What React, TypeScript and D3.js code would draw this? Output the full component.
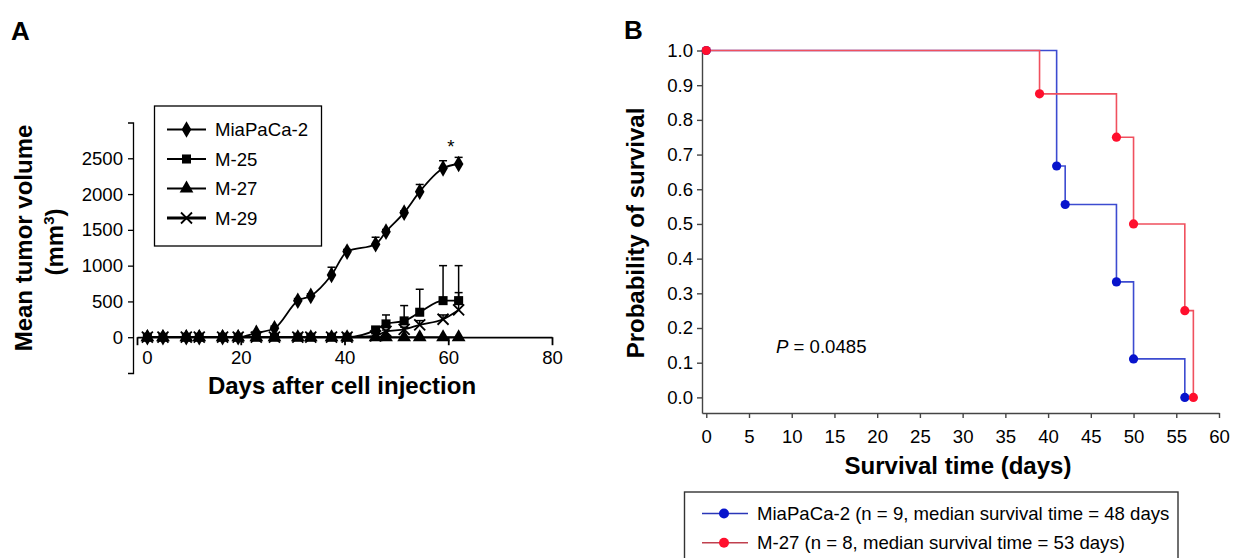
import React, { useRef, useEffect } from "react";
import * as d3 from "d3";

// Panel A - tumor growth
const days = [2, 5, 9.5, 12, 16.5, 19.5, 23, 26.5, 31, 33.5, 37.5, 40.5, 46, 48, 51.5, 54.5, 59, 62];
const miaPaCa = [0, 0, 0, 0, 0, 0, 60, 125, 510, 577, 870, 1196, 1299, 1475, 1740, 2034, 2360, 2420];
const miaPaCaErr = [0, 0, 0, 0, 0, 0, 20, 30, 30, 30, 108, 30, 98, 30, 25, 100, 106, 93];
const m25 = [0, 0, 0, 0, 0, 0, 0, 0, 0, 0, 0, 0, 102, 186, 228, 349, 511, 511];
const m25Err = [0, 0, 0, 0, 0, 0, 0, 0, 0, 0, 0, 0, 30, 125, 214, 321, 489, 489];
const m27 = [0, 0, 0, 0, 0, 0, 0, 0, 0, 0, 0, 0, 0, 0, 0, 0, 0, 0];
const m29 = [0, 0, 0, 0, 0, 0, 0, 0, 0, 0, 0, 0, 20, 80, 110, 172, 251, 381];
const m29Err = [0, 0, 0, 0, 0, 0, 0, 0, 0, 0, 0, 0, 0, 20, 30, 60, 60, 242];
const seriesNamesA = ["MiaPaCa-2", "M-25", "M-27", "M-29"];
const yTicksA = [0, 500, 1000, 1500, 2000, 2500];
const xTicksA = [0, 20, 40, 60, 80];

// Panel B - Kaplan-Meier
const miaTimes = [0, 41, 42, 48, 50, 56];
const miaSurv = [1, 0.667, 0.556, 0.333, 0.111, 0];
const m27Times = [0, 39, 48, 50, 56, 57];
const m27Surv = [1, 0.875, 0.75, 0.5, 0.25, 0];
const legendB = [
  "MiaPaCa-2 (n = 9, median survival time = 48 days",
  "M-27 (n = 8, median survival time = 53 days)",
];
const xTicksB = d3.range(0, 61, 5);
const yTicksB = d3.range(0, 11).map(d => d / 10);

const FONT = "'Liberation Sans', Arial, Helvetica, sans-serif";
const FS = 18.6;

const App = () => {
  const svgRef = useRef<SVGSVGElement>(null);

  useEffect(() => {
    const svg = d3.select(svgRef.current);
    svg.selectAll("*").remove();
    svg.attr("font-family", FONT);

    // ---------- Panel A ----------
    const xA = d3.scaleLinear().domain([0, 80]).range([137, 552]);
    const yA = d3.scaleLinear().domain([-500, 3000]).range([373, 122.5]);

    svg.append("text").attr("x", 11).attr("y", 40).attr("font-size", 26)
      .attr("font-weight", "bold").text("A");

    const gy = svg.append("g").attr("transform", "translate(133,0)")
      .call(d3.axisLeft(yA).tickValues(yTicksA).tickFormat(d3.format("d")).tickSize(5).tickSizeOuter(5).tickPadding(5));
    gy.selectAll("text").attr("font-size", FS).attr("font-family", FONT).attr("fill", "#000");
    gy.selectAll("line,path").attr("stroke", "#000").attr("stroke-width", 1.3);

    const gx = svg.append("g").attr("transform", `translate(0,${yA(0)})`)
      .call(d3.axisBottom(xA).tickValues(xTicksA).tickSize(8).tickSizeOuter(0).tickPadding(6));
    gx.selectAll("text").attr("font-size", FS).attr("font-family", FONT).attr("fill", "#000");
    gx.selectAll("line,path").attr("stroke", "#000").attr("stroke-width", 1.8);
    gx.selectAll<SVGTextElement, number>(".tick text").filter(d => d === 0).attr("dx", 10);

    // axis titles
    svg.append("text").attr("x", 342).attr("y", 394).attr("text-anchor", "middle")
      .attr("font-size", 24).attr("font-weight", "bold").text("Days after cell injection");
    svg.append("text").attr("transform", "translate(32,238) rotate(-90)")
      .attr("text-anchor", "middle").attr("font-size", 24).attr("font-weight", "bold")
      .text("Mean tumor volume");
    const t2 = svg.append("text").attr("transform", "translate(63,242) rotate(-90)")
      .attr("text-anchor", "middle").attr("font-size", 24).attr("font-weight", "bold");
    t2.append("tspan").text("(mm");
    t2.append("tspan").attr("font-size", 15).attr("dy", -9).text("3");
    t2.append("tspan").attr("dy", 9).text(")");

    const seriesA = [
      { vals: miaPaCa, err: miaPaCaErr, marker: "diamond" },
      { vals: m25, err: m25Err, marker: "square" },
      { vals: m27, err: m27.map(() => 0), marker: "triangle" },
      { vals: m29, err: m29Err, marker: "x" },
    ];

    const lineA = d3.line<number>()
      .x((_, i) => xA(days[i]))
      .y(d => yA(d))
      .curve(d3.curveMonotoneX);

    const drawMarker = (g: any, type: string, x: number, y: number) => {
      if (type === "x") {
        g.append("path")
          .attr("d", `M${x - 5.5},${y - 5.5}L${x + 5.5},${y + 5.5}M${x - 5.5},${y + 5.5}L${x + 5.5},${y - 5.5}`)
          .attr("stroke", "#000").attr("stroke-width", 1.8).attr("fill", "none");
        return;
      }
      const sym = type === "diamond" ? d3.symbolDiamond : type === "square" ? d3.symbolSquare : d3.symbolTriangle;
      const size = type === "diamond" ? 80 : type === "square" ? 82 : 82;
      g.append("path").attr("d", d3.symbol(sym, size)()).attr("transform", `translate(${x},${y})`)
        .attr("fill", "#000");
    };

    const plotA = svg.append("g");
    seriesA.forEach(s => {
      plotA.append("path").attr("d", lineA(s.vals)).attr("fill", "none")
        .attr("stroke", "#000").attr("stroke-width", 1.8);
      s.vals.forEach((v, i) => {
        if (s.err[i] > 0) {
          const x = xA(days[i]);
          const yt = yA(v + s.err[i]);
          plotA.append("line").attr("x1", x).attr("x2", x).attr("y1", yA(v)).attr("y2", yt)
            .attr("stroke", "#000").attr("stroke-width", 1.5);
          plotA.append("line").attr("x1", x - 4).attr("x2", x + 4).attr("y1", yt).attr("y2", yt)
            .attr("stroke", "#000").attr("stroke-width", 1.5);
        }
      });
    });
    seriesA.forEach(s => {
      s.vals.forEach((v, i) => drawMarker(plotA, s.marker, xA(days[i]), yA(v)));
    });

    svg.append("text").attr("x", xA(60.5)).attr("y", yA(2570)).attr("text-anchor", "middle")
      .attr("font-size", FS).text("*");

    // legend A
    const legA = svg.append("g");
    legA.append("rect").attr("x", 154.5).attr("y", 106).attr("width", 167).attr("height", 140)
      .attr("fill", "#fff").attr("stroke", "#000").attr("stroke-width", 1.3);
    seriesNamesA.forEach((name, i) => {
      const y = 129.5 + i * 29.5;
      legA.append("line").attr("x1", 167).attr("x2", 206).attr("y1", y).attr("y2", y)
        .attr("stroke", "#000").attr("stroke-width", i === 3 ? 2.8 : 2);
      drawMarker(legA, seriesA[i].marker, 186.5, y);
      legA.append("text").attr("x", 215).attr("y", y + 6.5).attr("font-size", FS).text(name);
    });

    // ---------- Panel B ----------
    const xB = d3.scaleLinear().domain([-0.5, 60]).range([702, 1219]);
    const yB = d3.scaleLinear().domain([-0.045, 1]).range([413, 50.5]);

    svg.append("text").attr("x", 624).attr("y", 39).attr("font-size", 26)
      .attr("font-weight", "bold").text("B");

    const gyB = svg.append("g").attr("transform", "translate(702,0)")
      .call(d3.axisLeft(yB).tickValues(yTicksB).tickFormat(d3.format(".1f")).tickSize(5).tickSizeOuter(0).tickPadding(4));
    gyB.selectAll("text").attr("font-size", FS).attr("font-family", FONT).attr("fill", "#000");
    gyB.selectAll("line,path").attr("stroke", "#444").attr("stroke-width", 1.4);

    const gxB = svg.append("g").attr("transform", "translate(0,413)")
      .call(d3.axisBottom(xB).tickValues(xTicksB).tickSize(5).tickSizeOuter(0).tickPadding(12));
    gxB.selectAll("text").attr("font-size", FS).attr("font-family", FONT).attr("fill", "#000");
    gxB.selectAll("line,path").attr("stroke", "#444").attr("stroke-width", 1.4);

    svg.append("text").attr("x", 958).attr("y", 474).attr("text-anchor", "middle")
      .attr("font-size", 24).attr("font-weight", "bold").text("Survival time (days)");
    svg.append("text").attr("transform", "translate(644,233) rotate(-90)")
      .attr("text-anchor", "middle").attr("font-size", 24).attr("font-weight", "bold")
      .text("Probability of survival");

    const pText = svg.append("text").attr("x", 776).attr("y", 353).attr("font-size", FS);
    pText.append("tspan").attr("font-style", "italic").text("P");
    pText.append("tspan").text(" = 0.0485");

    const groupsB = [
      { times: miaTimes, surv: miaSurv, line: "#3c4bd0", dot: "#0814cc", legLine: "#2a36b8" },
      { times: m27Times, surv: m27Surv, line: "#f0505e", dot: "#ff0f2d", legLine: "#c0404e" },
    ];

    const kmLine = d3.line<[number, number]>().curve(d3.curveStepAfter);
    groupsB.forEach(g => {
      const pts = g.times.map((t, i) => [xB(t), yB(g.surv[i])] as [number, number]);
      svg.append("path").attr("d", kmLine(pts))
        .attr("fill", "none").attr("stroke", g.line).attr("stroke-width", 1.6);
    });
    groupsB.forEach(g => {
      g.times.forEach((t, i) => {
        svg.append("circle").attr("cx", xB(t)).attr("cy", yB(g.surv[i])).attr("r", 4.6)
          .attr("fill", g.dot);
      });
    });

    // legend B
    const legB = svg.append("g");
    legB.append("rect").attr("x", 684.5).attr("y", 492).attr("width", 493.5).attr("height", 80)
      .attr("fill", "#fff").attr("stroke", "#333").attr("stroke-width", 1.4);
    legendB.forEach((label, i) => {
      const y = 513.5 + i * 29.3;
      legB.append("line").attr("x1", 702).attr("x2", 748).attr("y1", y).attr("y2", y)
        .attr("stroke", groupsB[i].legLine).attr("stroke-width", 1.6);
      legB.append("circle").attr("cx", 724).attr("cy", y).attr("r", 5).attr("fill", groupsB[i].dot);
      legB.append("text").attr("x", 757).attr("y", y + 6.5).attr("font-size", FS).text(label);
    });
  }, []);

  return (
    <div style={{ position: "absolute", left: 0, top: 0 }}>
      <svg ref={svgRef} width={1234} height={558} style={{ display: "block", background: "#fff" }} />
    </div>
  );
};

export default App;
